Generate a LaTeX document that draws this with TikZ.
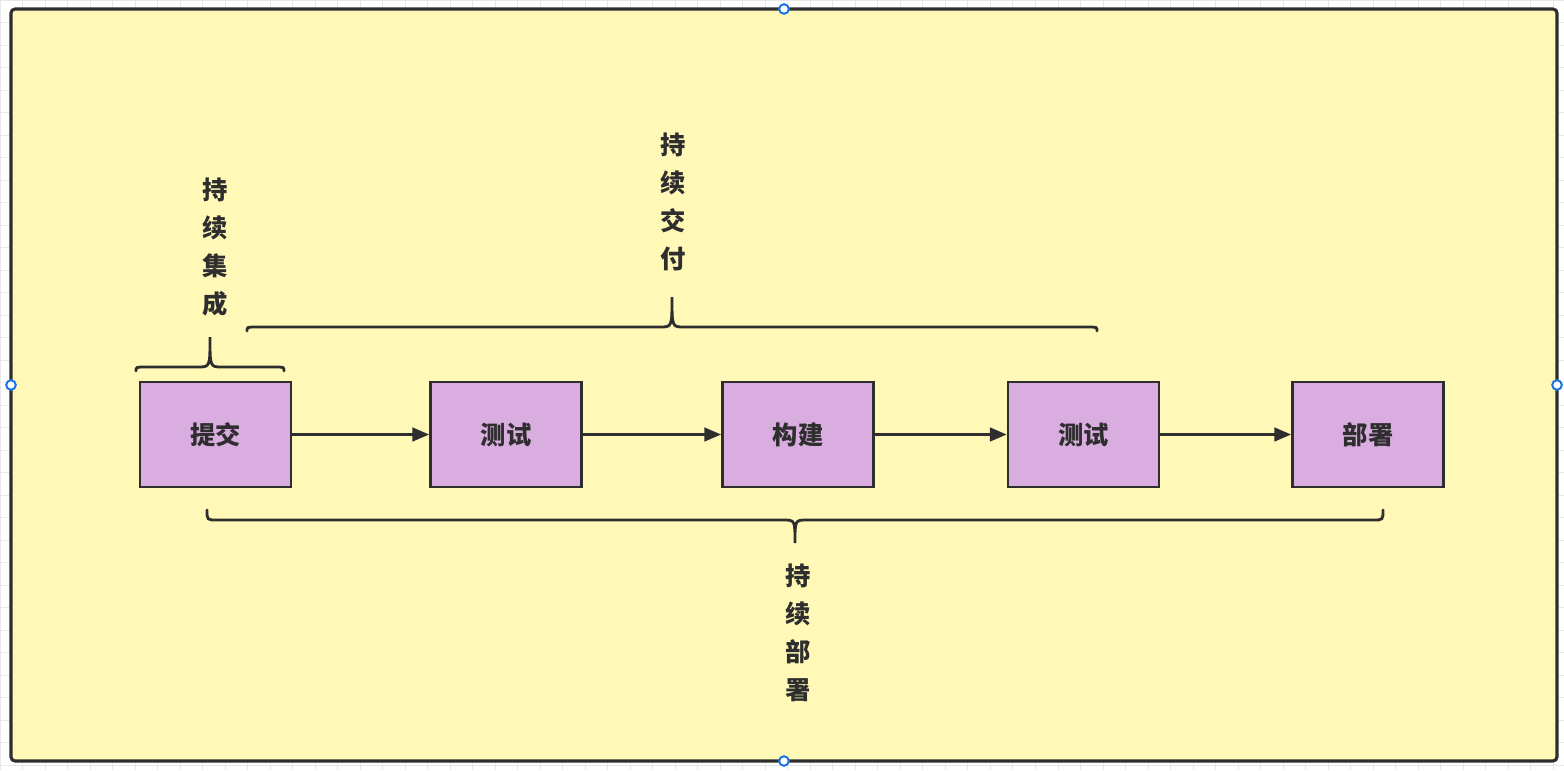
\documentclass[tikz,border=0pt]{standalone}
\usepackage{fontspec}
\newfontfamily\cjk{Noto Sans CJK SC}
\usetikzlibrary{arrows.meta}
\definecolor{canvas}{HTML}{FFF8B6}
\definecolor{stepfill}{HTML}{D9ADE0}
\definecolor{ink}{HTML}{2E2E2E}
\definecolor{handle}{HTML}{1A73E8}

\begin{document}
\begin{tikzpicture}[x=0.025cm,y=-0.025cm,
  every node/.style={font=\cjk\bfseries\fontsize{18}{27}\selectfont, text=ink},
  stage/.style={draw=ink, line width=1.9pt, fill=stepfill, minimum width=3.775cm, minimum height=2.625cm, inner sep=0pt},
  flow/.style={draw=ink, line width=1.9pt, -{Triangle[length=0.42cm,width=0.34cm]}},
  brace line/.style={draw=ink, line width=2pt, line cap=round},
  phase/.style={align=center},
  grab/.style={draw=handle, fill=white, line width=1.4pt}]
  % background grid and frame
  \useasboundingbox (0,0) rectangle (1564,770);
  \fill[white] (0,0) rectangle (1564,770);
  \draw[gray!18, line width=0.4pt] (0,0) grid[step=0.5625cm] (1564,770);
  \draw[ink, line width=2.2pt, fill=canvas, rounded corners=0.1cm] (11,9) rectangle (1557,761);
  % stages
  \node[stage] (commit) at (215.5,434.5) {提交};
  \node[stage] (test1) at (506,434.5) {测试};
  \node[stage] (build) at (798,434.5) {构建};
  \node[stage] (test2) at (1083.5,434.5) {测试};
  \node[stage] (deploy) at (1368,434.5) {部署};
  \draw[flow] (commit) -- (test1);
  \draw[flow] (test1) -- (build);
  \draw[flow] (build) -- (test2);
  \draw[flow] (test2) -- (deploy);
  % braces
  \draw[brace line] (136,371) .. controls (136,367) .. (146,367) -- (198,367)
    .. controls (210,367) .. (210,337) .. controls (210,367) .. (222,367) -- (274,367)
    .. controls (284,367) .. (284,371);
  \draw[brace line] (247,331) .. controls (247,327) .. (257,327) -- (660,327)
    .. controls (672,327) .. (672,297) .. controls (672,327) .. (684,327) -- (1087,327)
    .. controls (1097,327) .. (1097,331);
  \draw[brace line] (207,510) .. controls (207,520) .. (217,520) -- (783,520)
    .. controls (795,520) .. (795,543) .. controls (795,520) .. (807,520) -- (1373,520)
    .. controls (1383,520) .. (1383,510);
  \node[phase] (ci) at (215,247) {持\\续\\集\\成};
  \node[phase] (cd) at (673,202) {持\\续\\交\\付};
  \node[phase] (cdep) at (798,633) {持\\续\\部\\署};
  % selection handles
  \foreach \p in {(784,9),(11,385),(1557,385),(784,761)}{\draw[grab] \p circle (0.12cm);}
\end{tikzpicture}
\end{document}
